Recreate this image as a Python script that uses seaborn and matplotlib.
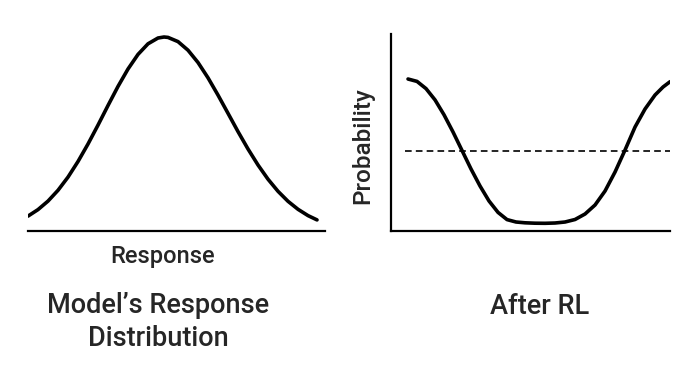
import matplotlib
matplotlib.use("Agg")
import matplotlib.pyplot as plt
import seaborn as sns

# left panel: model's response distribution (bell shape)
resp_x = [0, 10, 20, 30, 40, 50, 60, 70, 80, 90, 100, 110, 120, 130, 136,
          140, 150, 160, 170, 180, 190, 200, 210, 220, 230, 240, 250, 260,
          270, 280, 289]
resp_y = [14.9, 21.4, 29.9, 40.7, 53.9, 69.5, 87.0, 105.9, 125.5, 144.6,
          162.0, 176.6, 187.2, 193.0, 194.0, 193.6, 189.4, 180.8, 168.5,
          153.2, 135.9, 117.7, 99.4, 82.0, 66.0, 51.8, 39.7, 29.7, 21.7,
          15.4, 11.1]

# right panel: probability after RL (mass pushed to the extremes)
rl_x = [17, 26, 35, 44, 53, 62, 71, 80, 89, 98, 107, 116, 125, 134, 144,
        154, 164, 174, 184, 194, 204, 214, 224, 234, 244, 254, 264, 272, 279]
rl_y = [152.0, 149.6, 142.4, 131.1, 116.2, 99.0, 80.5, 62.0, 45.0, 30.0,
        18.6, 11.4, 9.0, 8.2, 7.8, 7.7, 8.0, 9.0, 11.5, 17.0, 26.0, 40.0,
        59.0, 81.0, 104.0, 122.0, 136.0, 144.0, 149.3]
baseline_level = 80.0
baseline_x = [14, 279]

sns.set_theme(style="white")
plt.rcParams['font.family'] = ['Roboto', 'DejaVu Sans']

fig = plt.figure(figsize=(7, 3.8), dpi=100)
ax1 = fig.add_axes([0.04, 0.3921, 0.4243, 0.5263])
ax2 = fig.add_axes([0.5586, 0.3921, 0.3986, 0.5184])

sns.lineplot(x=resp_x, y=resp_y, ax=ax1, color="black", linewidth=2.6)
ax1.set_xlim(0, 297)
ax1.set_ylim(0, 200)
ax1.set_xticks([])
ax1.set_yticks([])
sns.despine(ax=ax1, left=True)
ax1.spines['bottom'].set_color("black")
ax1.spines['bottom'].set_linewidth(1.6)

sns.lineplot(x=rl_x, y=rl_y, ax=ax2, color="black", linewidth=2.6)
ax2.plot(baseline_x, [baseline_level, baseline_level], color="black",
         linewidth=1.2, linestyle=(0, (4, 2.5)))
ax2.set_xlim(0, 279)
ax2.set_ylim(0, 197)
ax2.set_xticks([])
ax2.set_yticks([])
sns.despine(ax=ax2)
for side in ['left', 'bottom']:
    ax2.spines[side].set_color("black")
    ax2.spines[side].set_linewidth(1.6)

# axis labels placed where they sit in the original
fig.text(163 / 700, 1 - 256 / 380, "Response", ha="center", va="center",
         fontsize=17, fontweight="medium")
fig.text(363 / 700, 1 - 146 / 380, "Probability", ha="center", va="center",
         rotation=90, fontsize=17.5, fontweight="medium")

fig.text(158 / 700, 1 - 322 / 380, "Model\u2019s Response\nDistribution",
         ha="center", va="center", fontsize=19.5, fontweight="medium",
         linespacing=1.25)
fig.text(540 / 700, 1 - 306 / 380, "After RL", ha="center", va="center",
         fontsize=19.5, fontweight="medium")

fig.savefig("out.png", dpi=100, facecolor="white")
